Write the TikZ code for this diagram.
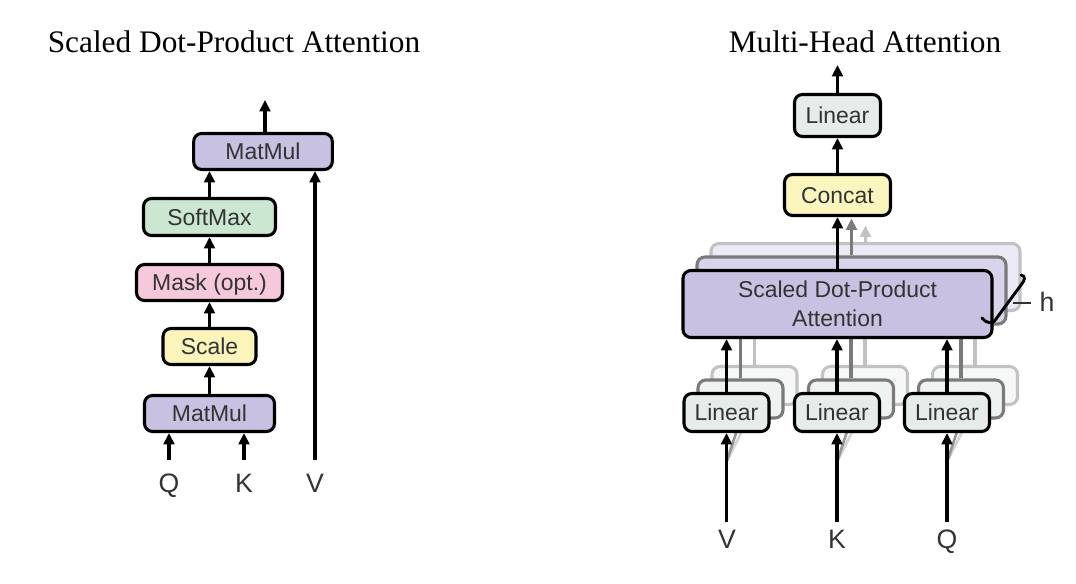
\documentclass[tikz,border=0pt]{standalone}
\usepackage{fontspec}
\setmainfont{Liberation Serif}
\newfontfamily\boxfont{Liberation Sans}
\usetikzlibrary{arrows.meta,calc}
\definecolor{txt}{HTML}{333333}
\definecolor{cmatmul}{HTML}{C8C1E1}
\definecolor{csoftmax}{HTML}{CBE6D1}
\definecolor{cmask}{HTML}{F6C8DC}
\definecolor{cscale}{HTML}{FBF5BC}
\definecolor{clinear}{HTML}{E6ECEA}
\definecolor{cconcat}{HTML}{FBF6BD}
\definecolor{sdtwo}{HTML}{D9D4EC}
\definecolor{sdthree}{HTML}{ECEAF5}
\definecolor{lintwo}{HTML}{EEF2F0}
\definecolor{linthree}{HTML}{F6F8F7}
\definecolor{gtwo}{HTML}{7A7A7A}
\definecolor{gthree}{HTML}{C2C2C2}
\tikzset{
  frame/.style={draw=black, line width=2.3pt, rounded corners=6pt, inner sep=0pt,
    font=\boxfont\fontsize{17.2}{21.75}\selectfont, text=txt},
  box/.style={frame, text height=12.3pt, text depth=0pt},
  arr/.style={line width=2.4pt, -{Triangle[length=8.5pt,width=8pt]}},
  lbl/.style={font=\boxfont\fontsize{20}{24}\selectfont, text=txt, inner sep=0pt, anchor=base},
  ttl/.style={font=\fontsize{23.5}{28}\selectfont, inner sep=0pt, anchor=base},
}
\begin{document}
\begin{tikzpicture}[x=0.75pt,y=-0.75pt]
\useasboundingbox (0,0) rectangle (1076,584);
% ---------------- titles
\node[ttl] (t1) at (234,53) {Scaled Dot-Product Attention};
\node[ttl] (t2) at (865,53) {Multi-Head Attention};

% ---------------- left: scaled dot-product attention
\node[box, fill=cmatmul, minimum width=104pt, minimum height=27pt] (mm2) at (263,151.5) {MatMul};
\node[box, fill=csoftmax, minimum width=99pt, minimum height=27.75pt] (soft) at (209.5,217) {SoftMax};
\node[box, fill=cmask, minimum width=109.5pt, minimum height=27pt] (mask) at (209.5,282.5) {Mask (opt.)};
\node[box, fill=cscale, minimum width=69.75pt, minimum height=27pt] (scl) at (209.5,346.5) {Scale};
\node[box, fill=cmatmul, minimum width=97.5pt, minimum height=27pt] (mm1) at (209.5,413.5) {MatMul};
\node[lbl] (Ql) at (169,493) {Q};
\node[lbl] (Kl) at (244,493) {K};
\node[lbl] (Vl) at (315,493) {V};
\coordinate (o1) at (265,100);

\draw[arr] (mm1.north) -- (mm1.north |- scl.south);
\draw[arr] (scl.north) -- (scl.north |- mask.south);
\draw[arr] (mask.north) -- (mask.north |- soft.south);
\draw[arr] (soft.north) -- (soft.north |- mm2.south);
\draw[arr] (o1 |- mm2.north) -- (o1);
\draw[arr] (Ql.north) ++(0,-14) -- (Ql.north |- mm1.south);
\draw[arr] (Kl.north) ++(0,-14) -- (Kl.north |- mm1.south);
\draw[arr] (Vl.north) ++(0,-14) -- (Vl.north |- mm2.south);

% ---------------- right: multi-head attention
\coordinate (bv) at (726.5,462);
\coordinate (bk) at (837,462);
\coordinate (bq) at (947,462);

% layer 3 (back)
\node[frame, draw=gthree, fill=sdthree, minimum width=231.75pt, minimum height=50.25pt] (sd3) at (865.5,277) {};
\foreach \n/\x in {lv3/754.5, lk3/865, lq3/975}{
  \node[frame, draw=gthree, fill=linthree, minimum width=63.75pt, minimum height=28.5pt] (\n) at (\x,385.5) {};
}
\foreach \n in {lv3, lk3, lq3}{
  \draw[arr, draw=gthree] (\n.north) -- (\n.north |- sd3.south);
}
\draw[arr, draw=gthree] (sd3.north) -- ++(0,-16.5);
\draw[line width=2pt, draw=gthree!70] (bv) -- (lv3.south);
\draw[line width=2pt, draw=gthree!70] (bk) -- (lk3.south);
\draw[line width=2pt, draw=gthree!70] (bq) -- (lq3.south);

% layer 2
\node[frame, draw=gtwo, fill=sdtwo, minimum width=231.75pt, minimum height=50.25pt] (sd2) at (851.5,290.5) {};
\foreach \n/\x in {lv2/740.5, lk2/851, lq2/961}{
  \node[frame, draw=gtwo, fill=lintwo, minimum width=63.75pt, minimum height=28.5pt] (\n) at (\x,399) {};
}
\foreach \n in {lv2, lk2, lq2}{
  \draw[arr, draw=gtwo] (\n.north) -- (\n.north |- sd2.south);
}
\draw[arr, draw=gtwo] (sd2.north) -- ++(0,-37);
\draw[line width=2pt, draw=gtwo!80] (bv) -- (lv2.south);
\draw[line width=2pt, draw=gtwo!80] (bk) -- (lk2.south);
\draw[line width=2pt, draw=gtwo!80] (bq) -- (lq2.south);

% front layer
\node[frame, fill=cmatmul, minimum width=231.75pt, minimum height=50.25pt, align=center] (sdpa) at (837.5,304) {Scaled Dot-Product\\Attention};
\node[box, fill=clinear, minimum width=63.75pt, minimum height=28.5pt] (lv) at (726.5,412.5) {Linear};
\node[box, fill=clinear, minimum width=63.75pt, minimum height=28.5pt] (lk) at (837,412.5) {Linear};
\node[box, fill=clinear, minimum width=63.75pt, minimum height=28.5pt] (lq) at (947,412.5) {Linear};
\node[box, fill=cconcat, minimum width=79.5pt, minimum height=30.75pt] (concat) at (837.5,195) {Concat};
\node[box, fill=clinear, minimum width=64.5pt, minimum height=31.5pt] (lin0) at (837.5,115.5) {Linear};
\node[lbl] (Vr) at (727,549) {V};
\node[lbl] (Kr) at (837,549) {K};
\node[lbl] (Qr) at (947,549) {Q};
\coordinate (o2) at (837.5,65);

\draw[arr] (lv.north) -- (lv.north |- sdpa.south);
\draw[arr] (lk.north) -- (lk.north |- sdpa.south);
\draw[arr] (lq.north) -- (lq.north |- sdpa.south);
\draw[arr] (sdpa.north) -- (sdpa.north |- concat.south);
\draw[arr] (concat.north) -- (lin0.south);
\draw[arr] (lin0.north) -- (o2);
\draw[arr] (lv.south |- Vr.north) ++(0,-8) -- (lv.south);
\draw[arr] (lk.south |- Kr.north) ++(0,-8) -- (lk.south);
\draw[arr] (lq.south |- Qr.north) ++(0,-8) -- (lq.south);

% h brace
\draw[line width=2.2pt, line cap=round] (982,318) .. controls (986,323) and (992,325) .. (996,319)
  -- (1021,285) .. controls (1025,280) and (1026,276) .. (1021,275);
\node[lbl, anchor=center, font=\boxfont\fontsize{20}{24}\selectfont] (hl) at (1047,302) {h};
\coordinate (hs) at (1013,303);
\draw[line width=1.8pt, draw=txt, shorten >=6pt] (hs) -- (hs -| hl.west);
\end{tikzpicture}
\end{document}
